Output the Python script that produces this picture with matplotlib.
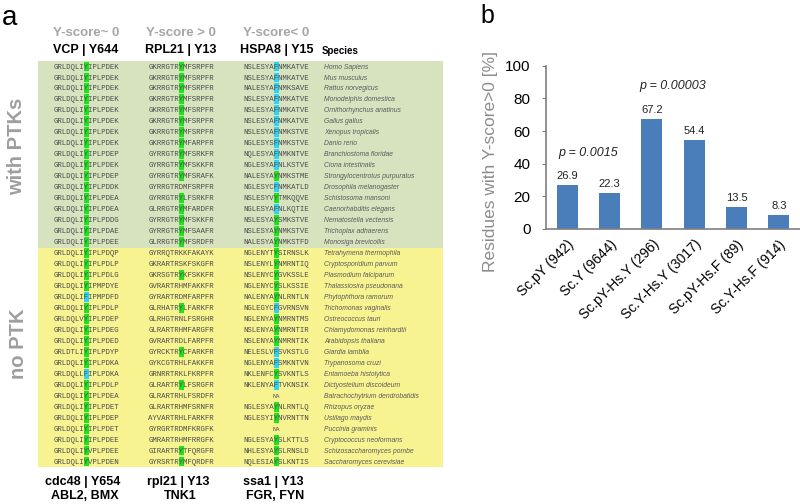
import matplotlib
matplotlib.use('Agg')
from matplotlib import pyplot as plt
from matplotlib.patches import Rectangle

plt.rcParams['font.family'] = ['Liberation Sans', 'DejaVu Sans']

# panel a: alignments around the phospho-site (position 8 of each 15-mer)
vcp = [
    'GRLDQLIYIPLPDEK', 'GRLDQLIYIPLPDEK', 'GRLDQLIYIPLPDEK', 'GRLDQLIYIPLPDEK',
    'GRLDQLIYIPLPDEK', 'GRLDQLIYIPLPDEK', 'GRLDQLIYIPLPDEK', 'GRLDQLIYIPLPDEK',
    'GRLDQLIYIPLPDEP', 'GRLDQLIYIPLPDEK', 'GRLDQLIYIPLPDEP', 'GRLDQLIYIPLPDDK',
    'GRLDQLIYIPLPDEA', 'GRLDQLIYIPLPDEA', 'GRLDQLIYIPLPDDG', 'GRLDQLIYIPLPDAE',
    'GRLDQLIYIPLPDEE',
    'GRLDQLIYIPLPDQP', 'GRLDQLIYIPLPDLP', 'GRLDQLIYIPLPDLG', 'GRLDQLIYIPMPDYE',
    'GRLDQLIFIPMPDFD', 'GRLDQLIYIPLPDLP', 'GRLDQLVYIPLPDEP', 'GRLDQLIYIPLPDEG',
    'GRLDQLIYIPLPDED', 'GRLDTLIYIPLPDYP', 'GRLDQLIYIPLPDKA', 'GRLDQLLFIPLPDKA',
    'GRLDQLIYIPLPDLP', 'GRLDQLIYIPLPDEA', 'GRLDQLIYIPLPDET', 'GRLDQLIYIPLPDEP',
    'GRLDQLIYIPLPDET', 'GRLDQLIYIPLPDEE', 'GRLDQLIYVPLPDEE', 'GRLDQLIYVPLPDEN',
]
rpl21 = [
    'GKRRGTRYMFSRPFR', 'GKRRGTRYMFSRPFR', 'GKRRGTRYMFSRPFR', 'GKRRGTRYMFSRPFR',
    'GKRRGTRYMFSRPFR', 'GKRRGTRYMFSRPFR', 'GKRRGTRYMFSRPFR', 'GKRRGTRYMFARPFR',
    'GYRRGTRYMFSRKFR', 'GYRRGTRYMFSKKFR', 'GYRRGTRYMFSRAFK', 'GYRRGTRDMFSRPFR',
    'GYRRGTRYLFSRKFR', 'GLRRGTRYMFARDFR', 'GYRRGTRYMFSKKFR', 'GYRRGTRYMFSAAFR',
    'GLRRGTRYMFSRDFR',
    'GYRRQTRKKFAKAYK', 'GKRARTRSKFSKGFR', 'GKRSGTRYKFSKKFR', 'GVRARTRHMFAKKFR',
    'GYRARTRDMFARPFR', 'GLRHATRYLFARKFR', 'GLRHGTRNLFSRGHR', 'GLRARTRHMFARGFR',
    'GVRARTRDLFARPFR', 'GYRCKTRYCFARKFR', 'GYKCGTRHLFAKKFR', 'GRNRRTRKLFKRPFR',
    'GLRARTRYLFSRGFR', 'GLRARTRHLFSRDFR', 'GLRARTRHMFSRNFR', 'AYVARTRHLFARKFR',
    'GYRGRTRDMFKRGFK', 'GMRARTRHMFRRGFK', 'GIRARTRYTFQRGFR', 'GYRSRTRYMFQRDFR',
]
hspa8 = [
    'NSLESYAFNMKATVE', 'NSLESYAFNMKATVE', 'NALESYAFNMKSAVE', 'NSLESYAFNMKATVE',
    'NSLESYAFNMKATVE', 'NSLESYAFNMKATVE', 'NSLESYAFNMKSTVE', 'NGLESYSFNMKSTVE',
    'NQLESYAFNMKNTVE', 'NGLESYAFNLKSTVE', 'NALESYAYNMKSTME', 'NGLESYCFNMKATLD',
    'NSLESYVYTMKQQVE', 'NGLESYAFNLKQTIE', 'NSLESYAYSMKSTVE', 'NSLESYAYNMKSTVE',
    'NALESYAYNMKSTFD',
    'NGLENYTYSIRNSLK', 'NSLENYLYNMRNTIQ', 'NSLENYCYGVKSSLE', 'NGLENYCYSLKSSIE',
    'NALENYAYNLRNTLN', 'NGLEGYCFGVRNSVN', 'NGLENYAYNMRNTMS', 'NSLENYAYNMRNTIR',
    'NSLENYAYNMRNTIK', 'NELESLVFSVKSTLG', 'NGLENYAFSMKNTVN', 'NKLENFCYSVKNTLS',
    'NKLENYAFTVKNSIK', 'NA', 'NGLESYAYNLRNTLQ', 'NGLESYIYNVRNTTN',
    'NA', 'NGLESYAYSLKTTLS', 'NHLESYAYSLRNSLD', 'NQLESIAYSLKNTIS',
]
species = [
    'Homo Sapiens', 'Mus musculus', 'Rattus norvegicus', 'Monodelphis domestica',
    'Ornithorhynchus anatinus', 'Gallus gallus', 'Xenopus tropicalis', 'Danio rerio',
    'Branchiostoma floridae', 'Ciona intestinalis', 'Strongylocentrotus purpuratus',
    'Drosophila melanogaster', 'Schistosoma mansoni', 'Caenorhabditis elegans',
    'Nematostella vectensis', 'Trichoplax adhaerens', 'Monosiga brevicollis',
    'Tetrahymena thermophila', 'Cryptosporidium parvum', 'Plasmodium falciparum',
    'Thalassiosira pseudonana', 'Phytophthora ramorum', 'Trichomonas vaginalis',
    'Ostreococcus tauri', 'Chlamydomonas reinhardtii', 'Arabidopsis thaliana',
    'Giardia lamblia', 'Trypanosoma cruzi', 'Entamoeba histolytica',
    'Dictyostelium discoideum', 'Batrachochytrium dendrobatidis', 'Rhizopus oryzae',
    'Ustilago maydis', 'Puccinia graminis', 'Cryptococcus neoformans',
    'Schizosaccharomyces pombe', 'Saccharomyces cerevisiae',
]
n_ptk = 17  # first 17 species have PTKs

col_scores = ['Y-score~ 0', 'Y-score > 0', 'Y-score< 0']
col_human = ['VCP | Y644', 'RPL21 | Y13', 'HSPA8 | Y15']
col_yeast = ['cdc48 | Y654', 'rpl21 | Y13', 'ssa1 | Y13']
col_kinases = ['ABL2, BMX', 'TNK1', 'FGR, FYN']

# panel b
groups = ['Sc.pY (942)', 'Sc.Y (9644)', 'Sc.pY-Hs.Y (296)', 'Sc.Y-Hs.Y (3017)',
          'Sc.pY-Hs.F (89)', 'Sc.Y-Hs.F (914)']
pct = [26.9, 22.3, 67.2, 54.4, 13.5, 8.3]
pvals = [(0.5, 46.5, 'p = 0.0015'), (2.5, 87.6, 'p = 0.00003')]

W, H = 800, 504
fig = plt.figure(figsize=(8, 5.04), dpi=100)


def fx(x):
    return x / W


def fy(y):
    return 1 - y / H


# ---- panel a ----
ax = fig.add_axes([fx(38), fy(467), fx(443) - fx(38), fy(61) - fy(467)])
ax.set_xlim(38, 443)
ax.set_ylim(len(species), 0)
ax.axis('off')
ax.axhspan(0, n_ptk, color='#d7e3bf', lw=0)
ax.axhspan(n_ptk, len(species), color='#f8f391', lw=0)

hl = {'Y': '#1fe31f', 'F': '#2dd4f4'}
col_x = [86, 181, 276.5]
cw = 4.4
for j, seqs in enumerate([vcp, rpl21, hspa8]):
    for i, s in enumerate(seqs):
        if s == 'NA':
            ax.text(col_x[j], i + 0.55, 'NA', fontsize=3.8, ha='center', va='center',
                    family='DejaVu Sans', color='#444444')
            continue
        site = s[len(s) // 2]
        if site in hl:
            ax.add_patch(Rectangle((col_x[j] - cw / 2 - 0.3, i + 0.05), cw + 0.6, 0.9,
                                   color=hl[site], lw=0))
        ax.text(col_x[j], i + 0.55, s, family='Liberation Mono', fontsize=5.28,
                ha='center', va='center', color='#4d4d4d')

for i, sp in enumerate(species):
    ax.text(324, i + 0.55, sp, fontsize=4.9, style='italic', ha='left', va='center',
            color='#5a5a5a')

for j in range(3):
    fig.text(fx(col_x[j]), fy(36), col_scores[j], fontsize=9.5, fontweight='bold',
             color='#a6a6a6', ha='center', va='baseline')
    fig.text(fx(col_x[j]), fy(53.5), col_human[j], fontsize=9, fontweight='bold',
             color='black', ha='center', va='baseline')
    fig.text(fx(col_x[j] - 3), fy(484.5), col_yeast[j], fontsize=9, fontweight='bold',
             color='black', ha='center', va='baseline')
    fig.text(fx(col_x[j] - 1), fy(499), col_kinases[j], fontsize=9, fontweight='bold',
             color='black', ha='center', va='baseline')
fig.text(fx(322), fy(54), 'Species', fontsize=7, fontweight='bold', ha='left',
         va='baseline')

fig.text(fx(17), fy(146), 'with PTKs', rotation=90, fontsize=14.5, fontweight='bold',
         color='#9e9e9e', ha='center', va='center')
fig.text(fx(18), fy(344), 'no PTK', rotation=90, fontsize=14.5, fontweight='bold',
         color='#9e9e9e', ha='center', va='center')
fig.text(fx(2), fy(25), 'a', fontsize=20, va='baseline')
fig.text(fx(480), fy(23), 'b', fontsize=18, va='baseline')

# ---- panel b ----
axb = fig.add_axes([fx(546), fy(229), fx(800) - fx(546), fy(65.7) - fy(229)])
x = range(len(groups))
axb.bar(x, pct, width=0.5, color='#4a7ebb')
for i, v in enumerate(pct):
    axb.text(i, v + 5.5, f'{v}', fontsize=8, ha='center', va='center', color='#222222')
for px, py, s in pvals:
    axb.text(px, py, s, fontsize=9, style='italic', ha='center', va='center',
             color='#222222')
axb.set_xlim(-0.5, 5.5)
axb.set_ylim(0, 100)
axb.set_yticks([0, 20, 40, 60, 80, 100])
axb.set_xticks(list(x), groups, rotation=45, ha='right', rotation_mode='anchor',
               fontsize=10)
axb.tick_params(axis='x', length=0, pad=6)
axb.tick_params(axis='y', length=3, pad=8, labelsize=11, color='#7f7f7f')
for side in ['top', 'right']:
    axb.spines[side].set_visible(False)
for side in ['left', 'bottom']:
    axb.spines[side].set_color('#7f7f7f')
    axb.spines[side].set_linewidth(1.2)
fig.text(fx(491), fy(162), 'Residues with Y-score>0 [%]', rotation=90, fontsize=12.5,
         color='#8c8c8c', ha='center', va='center')

fig.savefig('out.png', dpi=100)
